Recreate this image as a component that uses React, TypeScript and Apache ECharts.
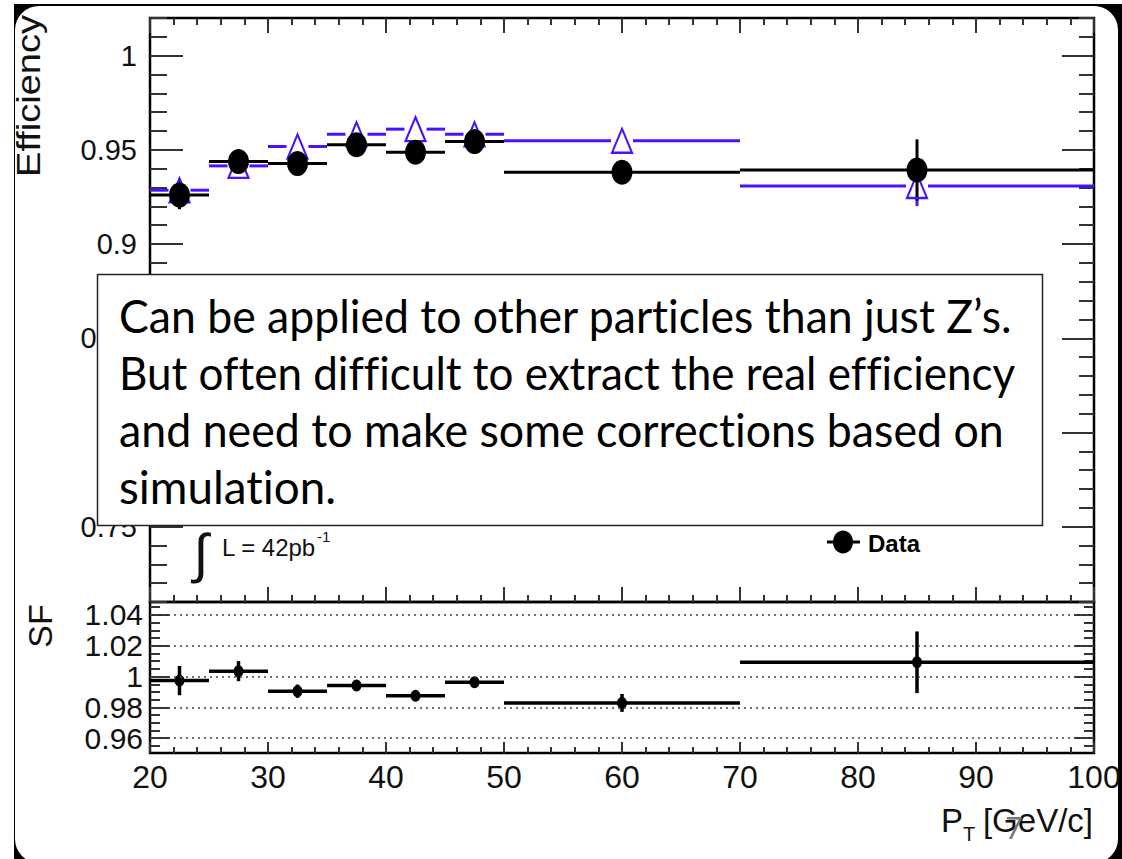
import React, { useEffect, useRef } from "react";
import * as echarts from "echarts";

// ---- data ----
const BIN_LO = [20, 25, 30, 35, 40, 45, 50, 70];
const BIN_HI = [25, 30, 35, 40, 45, 50, 70, 100];
const DATA_EFF = [0.926, 0.9438, 0.9427, 0.9527, 0.9488, 0.9544, 0.9381, 0.9393];
const DATA_ERR = [0.0075, 0.004, 0.003, 0.003, 0.003, 0.003, 0.004, 0.0163];
const MC_EFF = [0.9286, 0.9415, 0.9518, 0.9583, 0.961, 0.9583, 0.9548, 0.9308];
const MC_ERR = [0.005, 0.003, 0.002, 0.002, 0.002, 0.002, 0.003, 0.0106];
const SF_VAL = [0.9974, 1.0035, 0.9905, 0.9942, 0.9875, 0.9963, 0.9829, 1.0093];
const SF_ERR = [0.0095, 0.0065, 0.0043, 0.003, 0.003, 0.003, 0.0058, 0.02];

const EFF_TICKS = [0.75, 0.8, 0.85, 0.9, 0.95, 1];
const SF_TICKS = [0.96, 0.98, 1, 1.02, 1.04];
const X_TICKS = [20, 30, 40, 50, 60, 70, 80, 90, 100];

const TEXT_LINES = [
  "Can be applied to other particles than just Z\u2019s.",
  "But often difficult to extract the real efficiency",
  "and need to make some corrections based on",
  "simulation.",
];
// rendered widths of the callout lines (layout)
const TEXT_WIDTHS = [894, 891, 886, 218];

const BLUE = "#4a10ff";
const TICK_COLOR = "#333";
const ROOT_FONT = "Liberation Sans";

const EFF_MINOR: number[] = [];
for (let k = 71; k <= 102; k++) if (k % 5 !== 0) EFF_MINOR.push(k / 100);
const SF_MINOR: number[] = [];
for (let k = 191; k <= 209; k++) if (k % 4 !== 0) SF_MINOR.push(k * 0.005);

function measure(text: string, font: string): number {
  const c = document.createElement("canvas").getContext("2d") as any;
  if (!c) return text.length * 10;
  c.font = font;
  try { c.fontVariantLigatures = "none"; } catch (e) {}
  return c.measureText(text).width;
}

const fmt = (v: number) => String(parseFloat(v.toFixed(3)));

function binItems(vals: number[], errs: number[]) {
  return BIN_LO.map((lo, i) => [lo, BIN_HI[i], vals[i], errs[i]]);
}
function centers(vals: number[]) {
  return BIN_LO.map((lo, i) => [(lo + BIN_HI[i]) / 2, vals[i]]);
}

function makeRender(color: string, width: number, gap: number, vgap: number) {
  return (params: any, api: any) => {
    const lo = api.value(0);
    const hi = api.value(1);
    const v = api.value(2);
    const e = api.value(3);
    const c = (lo + hi) / 2;
    const pL = api.coord([lo, v]);
    const pR = api.coord([hi, v]);
    const pC = api.coord([c, v]);
    const pT = api.coord([c, v + e]);
    const pB = api.coord([c, v - e]);
    const style = { stroke: color, lineWidth: width, fill: null };
    const children: any[] = [];
    if (gap > 0) {
      children.push({ type: "line", shape: { x1: pL[0], y1: pC[1], x2: pC[0] - gap, y2: pC[1] }, style });
      children.push({ type: "line", shape: { x1: pC[0] + gap, y1: pC[1], x2: pR[0], y2: pC[1] }, style });
    } else {
      children.push({ type: "line", shape: { x1: pL[0], y1: pL[1], x2: pR[0], y2: pR[1] }, style });
    }
    if (vgap > 0) {
      if (pC[1] - pT[1] > vgap)
        children.push({ type: "line", shape: { x1: pT[0], y1: pT[1], x2: pC[0], y2: pC[1] - vgap }, style });
      if (pB[1] - pC[1] > vgap)
        children.push({ type: "line", shape: { x1: pC[0], y1: pC[1] + vgap, x2: pB[0], y2: pB[1] }, style });
    } else {
      children.push({ type: "line", shape: { x1: pT[0], y1: pT[1], x2: pB[0], y2: pB[1] }, style });
    }
    return { type: "group", children };
  };
}

function yAxis(grid: number, min: number, max: number, pos: string, ticks: number[], len: number, labels: boolean, fontSize: number, margin: number) {
  return {
    type: "value",
    gridIndex: grid,
    min,
    max,
    position: pos,
    offset: 0,
    axisLine: { show: false },
    splitLine: { show: false },
    axisTick: { show: true, inside: true, length: len, customValues: ticks, lineStyle: { color: TICK_COLOR, width: 2 } },
    axisLabel: labels
      ? { show: true, customValues: ticks, formatter: fmt, fontFamily: ROOT_FONT, fontSize, color: "#111", margin }
      : { show: false },
  };
}

function xAxis(grid: number, pos: string, labels: boolean, major: number, minor: number) {
  return {
    type: "value",
    gridIndex: grid,
    min: 20,
    max: 100,
    interval: 10,
    position: pos,
    axisLine: { show: false },
    splitLine: { show: false },
    axisTick: { show: true, inside: true, length: major, lineStyle: { color: TICK_COLOR, width: 2 } },
    minorTick: { show: true, splitNumber: 5, length: minor, lineStyle: { color: TICK_COLOR, width: 2 } },
    axisLabel: labels
      ? { show: true, customValues: X_TICKS, fontFamily: ROOT_FONT, fontSize: 32, color: "#111", margin: 8 }
      : { show: false },
  };
}

export default function App() {
  const ref = useRef<HTMLDivElement>(null);
  useEffect(() => {
    if (!ref.current) return;
    const chart = echarts.init(ref.current, null, { renderer: "svg" });

    const boxFont = '46px Lato';
    const effFont = `33px "${ROOT_FONT}"`;
    const effScale = 162 / measure("Efficiency", effFont);
    const baselines = [330.5, 388, 445, 502];

    const graphic: any[] = [
      { type: "rect", z: -100, silent: true, shape: { x: 14, y: 4, width: 1108, height: 870 }, style: { fill: "#000" } },
      { type: "rect", z: -99, silent: true, shape: { x: 15, y: 6, width: 1103, height: 857, r: 24 }, style: { fill: "#fff" } },
      {
        type: "text", z: 50, x: 29, y: 96, rotation: Math.PI / 2, scaleX: effScale,
        style: { text: "Efficiency", font: effFont, fill: "#111", align: "center", verticalAlign: "middle" },
      },
      {
        type: "text", z: 50, x: 40, y: 626, rotation: Math.PI / 2,
        style: { text: "SF", font: `34px "${ROOT_FONT}"`, fill: "#111", align: "center", verticalAlign: "middle" },
      },
      { type: "text", z: 50, x: 941, y: 820, style: { text: "P", font: `33px "${ROOT_FONT}"`, fill: "#111", align: "left", verticalAlign: "middle" } },
      { type: "text", z: 50, x: 963, y: 834, style: { text: "T", font: `20px "${ROOT_FONT}"`, fill: "#111", align: "left", verticalAlign: "middle" } },
      { type: "text", z: 50, x: 1093, y: 820, style: { text: "[GeV/c]", font: `33px "${ROOT_FONT}"`, fill: "#111", align: "right", verticalAlign: "middle" } },
      { type: "text", z: 51, x: 1014, y: 827, style: { text: "7", font: "30px Lato", fill: "#777", align: "center", verticalAlign: "middle" } },
      { type: "text", z: 50, x: 201, y: 553, style: { text: "\u222B", font: `54px "${ROOT_FONT}"`, fill: "#111", align: "center", verticalAlign: "middle" } },
      { type: "text", z: 50, x: 222, y: 547, style: { text: "L = 42pb", font: `24px "${ROOT_FONT}"`, fill: "#111", align: "left", verticalAlign: "middle" } },
      { type: "text", z: 50, x: 317, y: 536, style: { text: "-1", font: `15px "${ROOT_FONT}"`, fill: "#111", align: "left", verticalAlign: "middle" } },
      { type: "line", z: 50, shape: { x1: 827, y1: 542, x2: 860, y2: 542 }, style: { stroke: "#000", lineWidth: 3 } },
      { type: "ellipse", z: 51, shape: { cx: 843, cy: 542, rx: 10, ry: 11.5 }, style: { fill: "#000" } },
      { type: "text", z: 50, x: 868, y: 543, style: { text: "Data", font: `bold 24px "${ROOT_FONT}"`, fill: "#000", align: "left", verticalAlign: "middle" } },
      { type: "rect", z: 100, shape: { x: 97.5, y: 274.5, width: 945, height: 251 }, style: { fill: "#fff", stroke: "#222", lineWidth: 1.5 } },
    ];
    TEXT_LINES.forEach((t, i) => {
      graphic.push({
        type: "text", z: 101, x: 119, y: baselines[i] - 15.5, scaleX: TEXT_WIDTHS[i] / measure(t, boxFont),
        style: { text: t, font: boxFont, fill: "#000", align: "left", verticalAlign: "middle" },
      });
    });

    chart.setOption({
      animation: false,
      backgroundColor: "transparent",
      grid: [
        { left: 150, top: 18, width: 944, height: 584, show: true, borderColor: "#000", borderWidth: 2.5, backgroundColor: "transparent", outerBoundsMode: "none", containLabel: false },
        { left: 150, top: 602, width: 944, height: 151, show: true, borderColor: "#000", borderWidth: 2.5, backgroundColor: "transparent", outerBoundsMode: "none", containLabel: false },
      ],
      xAxis: [
        xAxis(0, "bottom", false, 15, 7),
        xAxis(0, "top", false, 15, 7),
        xAxis(1, "bottom", true, 11, 6),
      ],
      yAxis: [
        yAxis(0, 0.71, 1.02, "left", EFF_TICKS, 33, true, 29, 13),
        yAxis(0, 0.71, 1.02, "left", EFF_MINOR, 17, false, 29, 13),
        yAxis(0, 0.71, 1.02, "right", EFF_TICKS, 32, false, 29, 13),
        yAxis(0, 0.71, 1.02, "right", EFF_MINOR, 15, false, 29, 13),
        yAxis(1, 0.9504, 1.0484, "left", SF_TICKS, 20, true, 30, 7),
        yAxis(1, 0.9504, 1.0484, "left", SF_MINOR, 10, false, 30, 7),
        yAxis(1, 0.9504, 1.0484, "right", SF_TICKS, 20, false, 30, 7),
        yAxis(1, 0.9504, 1.0484, "right", SF_MINOR, 10, false, 30, 7),
      ],
      graphic,
      series: [
        {
          name: "MC", type: "custom", xAxisIndex: 0, yAxisIndex: 0,
          data: binItems(MC_EFF, MC_ERR), encode: { x: [0, 1], y: [2] },
          renderItem: makeRender(BLUE, 3, 11, 12), silent: true,
        },
        {
          name: "MC", type: "scatter", xAxisIndex: 0, yAxisIndex: 0,
          data: centers(MC_EFF), symbol: "triangle", symbolSize: [20, 24],
          itemStyle: { color: "rgba(255,255,255,0)", borderColor: BLUE, borderWidth: 2.2, opacity: 1 }, silent: true,
        },
        {
          name: "Data", type: "custom", xAxisIndex: 0, yAxisIndex: 0,
          data: binItems(DATA_EFF, DATA_ERR), encode: { x: [0, 1], y: [2] },
          renderItem: makeRender("#000", 3, 0, 0), silent: true,
        },
        {
          name: "Data", type: "scatter", xAxisIndex: 0, yAxisIndex: 0,
          data: centers(DATA_EFF), symbol: "circle", symbolSize: [21, 25],
          itemStyle: { color: "#000", opacity: 1 }, silent: true,
        },
        {
          name: "SF", type: "custom", xAxisIndex: 2, yAxisIndex: 4,
          data: binItems(SF_VAL, SF_ERR), encode: { x: [0, 1], y: [2] },
          renderItem: makeRender("#000", 3.5, 0, 0), silent: true,
        },
        {
          name: "SF", type: "scatter", xAxisIndex: 2, yAxisIndex: 4,
          data: centers(SF_VAL), symbol: "circle", symbolSize: [10, 12],
          itemStyle: { color: "#000", opacity: 1 }, silent: true,
          markLine: {
            silent: true, symbol: ["none", "none"], label: { show: false },
            lineStyle: { type: [2, 4], color: "#444", width: 1.6 },
            emphasis: { disabled: true },
            data: SF_TICKS.map((v) => ({ yAxis: v })),
          },
        },
      ],
    });
    return () => chart.dispose();
  }, []);
  return (
    <>
      <style>{"svg text, svg tspan{font-variant-ligatures:none !important;font-feature-settings:'liga' 0,'dlig' 0,'clig' 0 !important;}"}</style>
      <div ref={ref} style={{ position: "absolute", left: 0, top: 0, width: 1122, height: 859 }} />
    </>
  );
}
